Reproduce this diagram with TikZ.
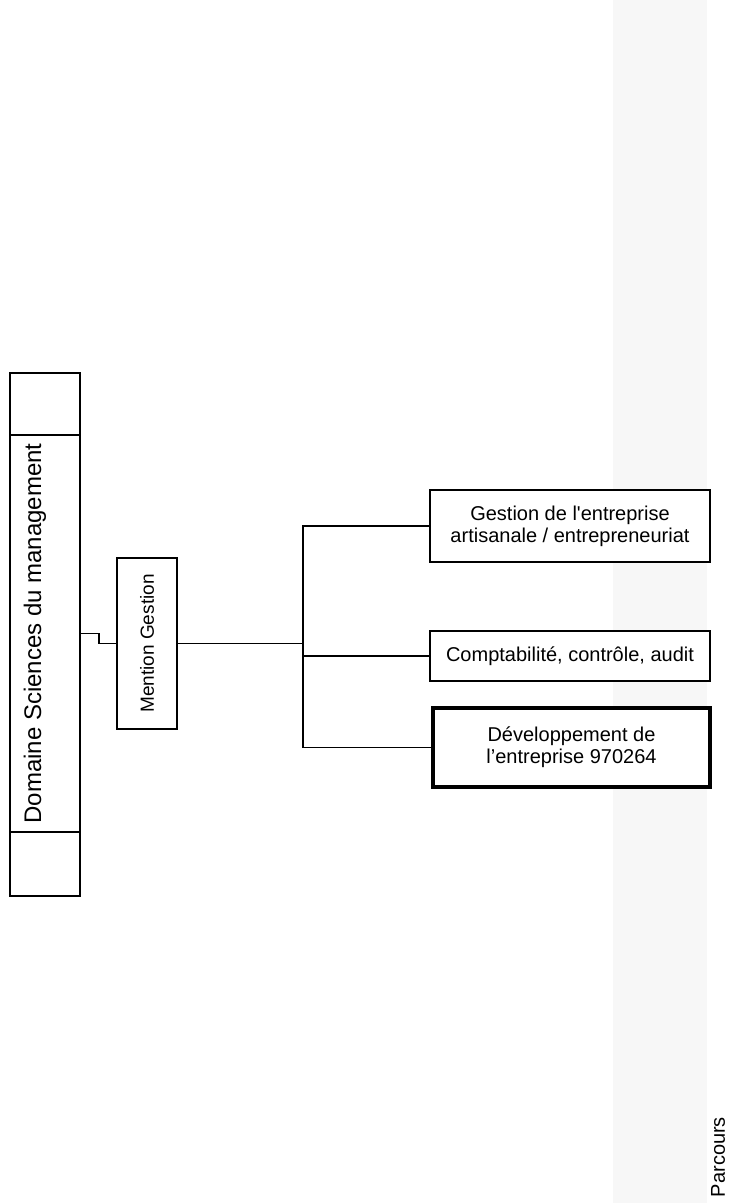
\documentclass[tikz,border=0pt]{standalone}
\usepackage{fontspec}
\setmainfont{Liberation Sans}
\usetikzlibrary{positioning}
\tikzset{
  basic/.style    = {draw, rectangle, fill=white, inner sep=0pt, line width=2pt, align=center},
  domaine/.style  = {basic, rotate=90, font=\fontsize{24}{28}\selectfont},
  mention/.style  = {basic, rotate=90, font=\fontsize{19}{22}\selectfont},
  parcours/.style = {basic, font=\fontsize{20}{22}\selectfont, minimum width=280pt},
  choisi/.style   = {parcours, line width=4pt, minimum width=277pt}
}
\begin{document}
\begin{tikzpicture}[x=1pt, y=-1pt, line width=1.8pt]
\useasboundingbox (0,0) rectangle (734,1203);

% fond gris du scan
\fill[gray!6] (613,0) rectangle (707,1203);

% domaine
\node[basic, minimum width=70pt, minimum height=62pt] (domhaut) at (45,404) {};
\node[domaine, text height=31pt, text depth=39pt, minimum width=397pt] (dom) at (45,633.5) {Domaine Sciences du management};
\node[basic, minimum width=70pt, minimum height=64pt] (dombas) at (45,864) {};

% mention
\node[mention, minimum width=171pt, minimum height=60pt] (men) at (147,643.5) {Mention Gestion};

% parcours, positionnes les uns sous les autres
\node[parcours, minimum height=72pt] (p1) at (570,526) {Gestion de l\textquotesingle entreprise\\ artisanale / entrepreneuriat};
\node[parcours, minimum height=50pt, below=67pt of p1] (p2) {Comptabilité, contrôle, audit};
\node[choisi, minimum height=79pt, below=24pt of p2, xshift=1.5pt] (p3) {Développement de\\ l’entreprise 970264};

\node[rotate=90, font=\fontsize{20}{22}\selectfont, inner sep=0pt] (titre) at (718,1157) {Parcours};

\draw (dom.south) -- ++(18,0) |- (men.north);
\coordinate (bus) at (303,643.5);
\draw (men.south) -- (bus);

\foreach \n in {1,2,3}
  \draw (bus) |- (p\n.west);
\end{tikzpicture}
\end{document}
